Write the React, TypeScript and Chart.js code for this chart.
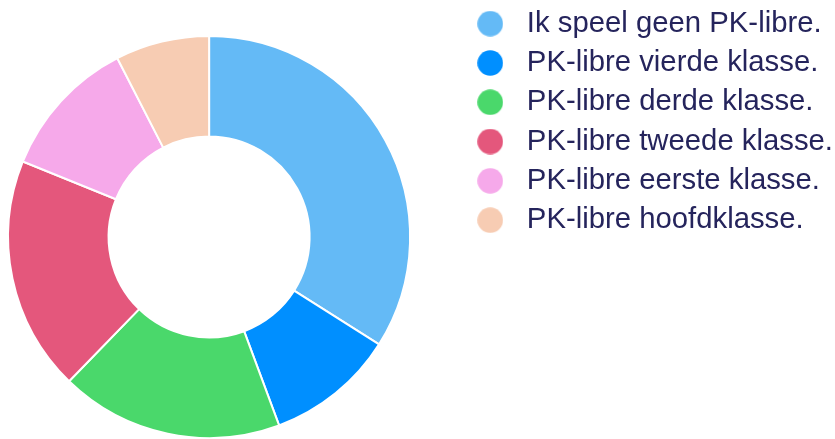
import React, { useEffect, useRef } from "react";
import { Chart, registerables } from "chart.js";

Chart.register(...registerables);

const categories = [
  "Ik speel geen PK-libre.",
  "PK-libre vierde klasse.",
  "PK-libre derde klasse.",
  "PK-libre tweede klasse.",
  "PK-libre eerste klasse.",
  "PK-libre hoofdklasse.",
];
const values = [36, 11, 19, 20, 12, 8];
const colors = ["#64baf6", "#008fff", "#4ad86b", "#e4577c", "#f6a9ea", "#f7ccb3"];

const CANVAS_W = 883;
const CANVAS_H = 476;

function dot(color: string): HTMLCanvasElement {
  const c = document.createElement("canvas");
  c.width = 26;
  c.height = 26;
  const ctx = c.getContext("2d")!;
  ctx.fillStyle = color;
  ctx.beginPath();
  ctx.arc(13, 13, 12.8, 0, Math.PI * 2);
  ctx.fill();
  return c;
}

export default function App() {
  const ref = useRef<HTMLCanvasElement>(null);
  useEffect(() => {
    if (!ref.current) return;
    const dots = colors.map(dot);
    const chart = new Chart(ref.current, {
      type: "doughnut",
      data: {
        labels: categories,
        datasets: [
          {
            data: values,
            backgroundColor: colors,
            borderColor: "#ffffff",
            borderWidth: 2,
            hoverOffset: 0,
          },
        ],
      },
      options: {
        responsive: false,
        animation: false,
        radius: 201,
        cutout: "50%",
        layout: { padding: 0 },
        plugins: {
          tooltip: { enabled: false },
          legend: {
            position: "right",
            align: "start",
            labels: {
              usePointStyle: true,
              pointStyleWidth: 44,
              padding: 10,
              color: "#25245c",
              font: { family: "'Liberation Sans', Arial, sans-serif", size: 29.3 },
              generateLabels(chart: any) {
                const base = (Chart as any).overrides.doughnut.plugins.legend.labels.generateLabels(chart);
                return base.map((it: any, i: number) => ({ ...it, pointStyle: dots[i] }));
              },
            },
          },
        },
      } as any,
    });
    return () => chart.destroy();
  }, []);
  return (
    <div style={{ position: "fixed", left: 0, top: 0, width: 835, height: 439, overflow: "hidden", background: "#fff" }}>
      <div style={{ position: "absolute", left: -40, top: -1, width: CANVAS_W, height: CANVAS_H }}>
        <canvas ref={ref} width={CANVAS_W} height={CANVAS_H} style={{ display: "block" }} />
      </div>
    </div>
  );
}
